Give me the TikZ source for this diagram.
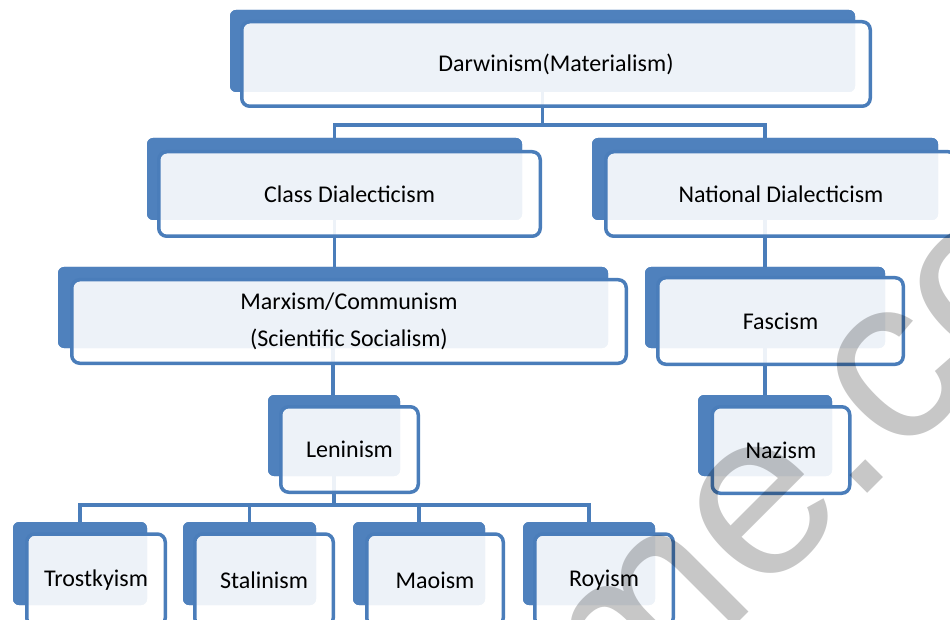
\documentclass[tikz,border=0pt]{standalone}
\usepackage{fontspec}
\setmainfont{Carlito}
\newfontfamily\wmfont{Liberation Sans}
\definecolor{backblue}{HTML}{4F81BD}
\definecolor{lineblue}{HTML}{4A7DBA}
\begin{document}
\begin{tikzpicture}[x=1pt,y=-1pt,
  backbox/.style={fill=backblue, draw=none, rounded corners=6pt, inner sep=0pt, outer sep=0pt},
  frontbox/.style={draw=lineblue, line width=3.5pt, fill=white, fill opacity=0.9, draw opacity=1, text opacity=1,
    rounded corners=8pt, inner sep=0pt, outer sep=0pt, align=center, text=black,
    font=\fontsize{24}{37}\selectfont},
  conn/.style={draw=lineblue, line width=3.5pt},
  wm/.style={font=\wmfont\fontsize{235}{235}\selectfont, text=black, text opacity=0.22, inner sep=0pt}
]
\useasboundingbox (0,0) rectangle (950,620);
\coordinate (bus1) at (0,125);
\coordinate (bus2) at (0,505);
\path
  node[backbox, minimum width=625pt, minimum height=82pt] (darB) at (542.5,51) {}
  node[backbox, minimum width=375pt, minimum height=82pt] (claB) at (334.5,179) {}
  node[backbox, minimum width=346pt, minimum height=82pt] (natB) at (765,179) {}
  node[backbox, minimum width=550pt, minimum height=81pt] (marB) at (333,307.5) {}
  node[backbox, minimum width=240pt, minimum height=81pt] (fasB) at (765,307.5) {}
  node[backbox, minimum width=132pt, minimum height=81pt] (lenB) at (334,435.5) {}
  node[backbox, minimum width=134pt, minimum height=81pt] (nazB) at (765,435.5) {}
  node[backbox, minimum width=134pt, minimum height=83pt] (troB) at (80,563.5) {}
  node[backbox, minimum width=133pt, minimum height=83pt] (staB) at (249.5,563.5) {}
  node[backbox, minimum width=132pt, minimum height=83pt] (maoB) at (419,563.5) {}
  node[backbox, minimum width=132pt, minimum height=83pt] (royB) at (589,563.5) {};
\draw[conn] (darB.center) -- (darB.center |- bus1) -| (claB.center);
\draw[conn] (darB.center |- bus1) -| (natB.center);
\draw[conn] (claB.center) -- (claB.center |- marB.center);
\draw[conn] (natB.center) -- (fasB.center);
\draw[conn] (marB.center) -- (marB.center |- lenB.center);
\draw[conn] (fasB.center) -- (nazB.center);
\draw[conn] (lenB.center) -- (lenB.center |- bus2) -| (troB.center);
\draw[conn] (lenB.center |- bus2) -| (staB.center);
\draw[conn] (lenB.center |- bus2) -| (maoB.center);
\draw[conn] (lenB.center |- bus2) -| (royB.center);
\foreach \n in {darB,claB,natB,marB,fasB,lenB,nazB,troB,staB,maoB,royB}{
  \fill[backblue, rounded corners=6pt] (\n.north west) rectangle (\n.south east);
}
\node[frontbox, minimum width=628.5pt, minimum height=84.5pt] (dar) at (556,64) {Darwinism(Materialism)};
\node[frontbox, minimum width=381.5pt, minimum height=84.5pt] (cla) at (349.5,194) {Class Dialecticism};
\node[frontbox, minimum width=350.5pt, minimum height=84.5pt] (nat) at (781,194) {National Dialecticism};
\node[frontbox, minimum width=554.5pt, minimum height=83.5pt] (mar) at (349,321.5) {Marxism/Communism\\(Scientific Socialism)};
\node[frontbox, minimum width=245.5pt, minimum height=86.5pt] (fas) at (780.5,321) {Fascism};
\node[frontbox, minimum width=137.5pt, minimum height=85.5pt] (len) at (349.5,449.5) {Leninism};
\node[frontbox, minimum width=137.5pt, minimum height=86.5pt] (naz) at (781,450) {Nazism};
\node[frontbox, minimum width=138.5pt, minimum height=92pt] (tro) at (96,580) {Trostkyism};
\node[frontbox, minimum width=138.5pt, minimum height=92pt] (sta) at (264,580) {Stalinism};
\node[frontbox, minimum width=136.5pt, minimum height=92pt] (mao) at (435,580) {Maoism};
\node[frontbox, minimum width=138.5pt, minimum height=92pt] (roy) at (604,580) {Royism};
\node[wm, rotate=45, anchor=base] (mark) at (848,513) {me.co};
\end{tikzpicture}
\end{document}
